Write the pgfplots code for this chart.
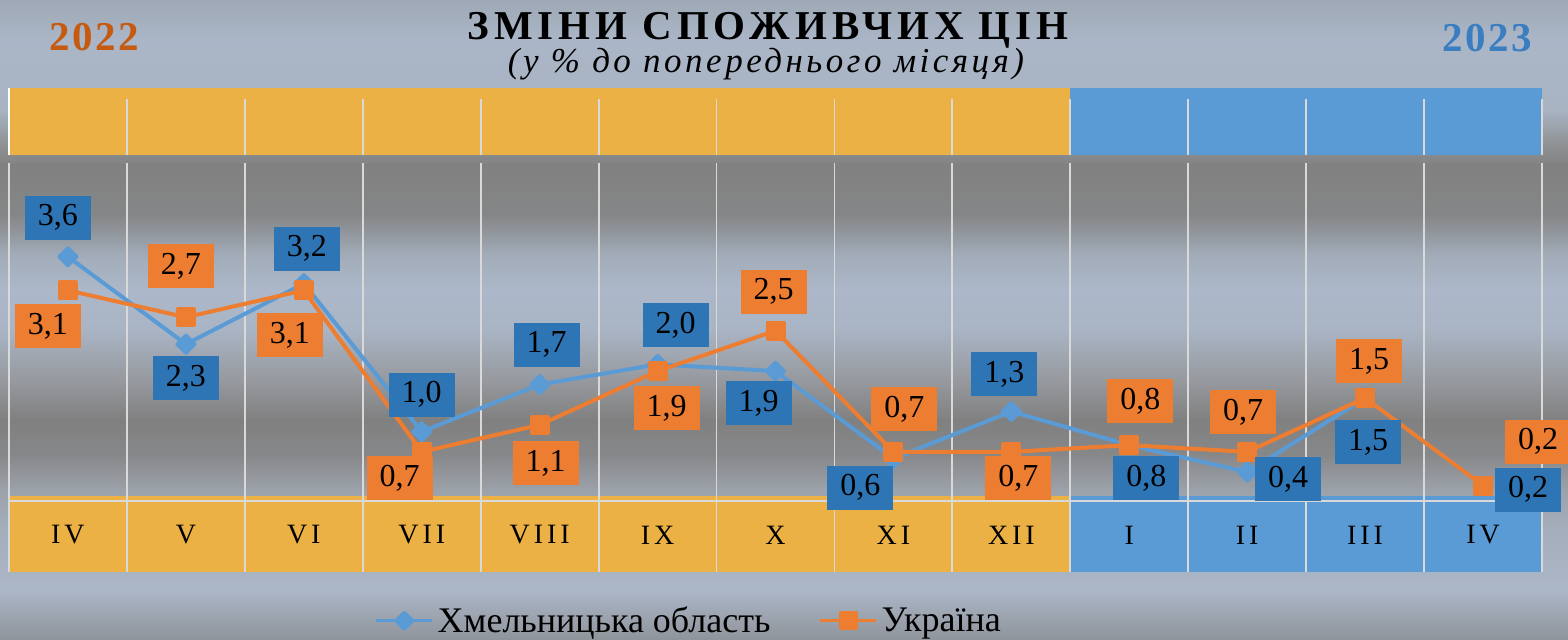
\documentclass[border=0pt]{standalone}
\usepackage{pgfplots}
\pgfplotsset{compat=1.18}
\usepackage{pgfplotstable}
\usepackage{fontspec}
\setmainfont{Liberation Serif}
\newfontfamily\titlefont[LetterSpace=12]{Liberation Serif}
\newfontfamily\subfont[LetterSpace=10]{Liberation Serif}
\newfontfamily\monthfont[LetterSpace=14]{Liberation Serif}
\newfontfamily\yearfont[LetterSpace=6]{Liberation Serif}

\definecolor{cblue}{HTML}{5B9BD5}
\definecolor{cdblue}{HTML}{2E75B6}
\definecolor{corange}{HTML}{ED7D31}
\definecolor{cband}{HTML}{EBB144}
\definecolor{cbandb}{HTML}{5B9BD5}
\definecolor{cgrid}{HTML}{D9D9D9}
\definecolor{cy22}{HTML}{C55A11}
\definecolor{cy23}{HTML}{3A7DC0}

\definecolor{bg0}{HTML}{9FA9B6}
\definecolor{bg1}{HTML}{AAB6C7}
\definecolor{bg2}{HTML}{A8B3C2}
\definecolor{bg3}{HTML}{929699}
\definecolor{bg4}{HTML}{818181}
\definecolor{bg5}{HTML}{858687}
\definecolor{bg6}{HTML}{A2ACB9}
\definecolor{bg7}{HTML}{ACB8C9}
\definecolor{bg8}{HTML}{A9B4C4}
\definecolor{bg9}{HTML}{96999E}
\definecolor{bg10}{HTML}{808080}
\definecolor{bg11}{HTML}{87888A}
\definecolor{bg12}{HTML}{9CA2AA}
\definecolor{bg13}{HTML}{A5AEBB}
\definecolor{bg14}{HTML}{ABB6C7}
\definecolor{bg15}{HTML}{8F949A}

% Khmelnytska oblast: month index, value, label, label offset (pt)
\pgfplotstableread{
x y lab dx dy
0 3.6 3,6 -5 19.5
1 2.3 2,3 0 -17
2 3.2 3,2 1.5 17.5
3 1.0 1,0 0 18.5
4 1.7 1,7 3.5 20
5 2.0 2,0 9 19.5
6 1.9 1,9 -8.5 -16
7 0.6 0,6 -16.5 -14.5
8 1.3 1,3 -3.5 18.5
9 0.8 0,8 8.5 -16.5
10 0.4 0,4 20.5 -3.5
11 1.5 1,5 1.5 -22
12 0.2 0,2 22.5 -2
}\khm

% Ukraine
\pgfplotstableread{
x y lab dx dy
0 3.1 3,1 -10 -18
1 2.7 2,7 -2.5 25.5
2 3.1 3,1 -7 -22.5
3 0.7 0,7 -11 -13
4 1.1 1,1 3 -19
5 1.9 1,9 4.5 -18.5
6 2.5 2,5 -1 19.5
7 0.7 0,7 5.5 21.5
8 0.7 0,7 3.5 -13
9 0.8 0,8 5.5 22
10 0.7 0,7 -2 20
11 1.5 1,5 2 18.5
12 0.2 0,2 27.5 22
}\ukr

\begin{document}
\begin{tikzpicture}[x=0.5pt,y=0.5pt]
\useasboundingbox (0,0) rectangle (1568,640);
% background gradient (image y from top)
\fill[top color=bg0, bottom color=bg1] (0,640) rectangle (1568,599.5);
\fill[top color=bg1, bottom color=bg2] (0,600) rectangle (1568,529.5);
\fill[top color=bg2, bottom color=bg3] (0,530) rectangle (1568,499.5);
\fill[top color=bg3, bottom color=bg4] (0,500) rectangle (1568,474.5);
\fill[top color=bg4, bottom color=bg5] (0,475) rectangle (1568,424.5);
\fill[top color=bg5, bottom color=bg6] (0,425) rectangle (1568,384.5);
\fill[top color=bg6, bottom color=bg7] (0,385) rectangle (1568,349.5);
\fill[top color=bg7, bottom color=bg8] (0,350) rectangle (1568,309.5);
\fill[top color=bg8, bottom color=bg9] (0,310) rectangle (1568,259.5);
\fill[top color=bg9, bottom color=bg10] (0,260) rectangle (1568,219.5);
\fill[top color=bg10, bottom color=bg11] (0,220) rectangle (1568,184.5);
\fill[top color=bg11, bottom color=bg12] (0,185) rectangle (1568,149.5);
\fill[top color=bg12, bottom color=bg13] (0,150) rectangle (1568,109.5);
\fill[top color=bg13, bottom color=bg14] (0,110) rectangle (1568,49.5);
\fill[top color=bg14, bottom color=bg15] (0,50) rectangle (1568,0);

% titles
\node[anchor=base, font=\titlefont\bfseries\fontsize{20.5}{24}\selectfont] at (768,600) {ЗМІНИ СПОЖИВЧИХ ЦІН};
\node[anchor=base, font=\subfont\itshape\fontsize{17.5}{20}\selectfont] at (766,567) {(у \% до попереднього місяця)};
\node[anchor=base, text=cy22, font=\yearfont\bfseries\fontsize{20.5}{22}\selectfont] at (94,589) {2022};
\node[anchor=base, text=cy23, font=\yearfont\bfseries\fontsize{20.5}{22}\selectfont] at (1487,588) {2023};

\begin{axis}[
  at={(4.5pt,34pt)}, anchor=south west,
  scale only axis, width=766.5pt, height=242pt,
  xmin=-0.5, xmax=12.5, ymin=-1.085, ymax=6.107,
  clip=false, axis on top,
  axis line style={draw=none},
  tick style={draw=none},
  ytick=\empty,
  xtick={0,...,12},
  xticklabels={IV,V,VI,VII,VIII,IX,X,XI,XII,I,II,III,IV},
  xticklabel style={anchor=center, yshift=18.5pt, text=black, font=\monthfont\fontsize{14}{16}\selectfont},
  legend columns=2,
  legend style={at={(axis description cs:0.444,-0.101)}, anchor=center, draw=none, fill=none,
    font=\fontsize{18}{20}\selectfont, inner sep=0pt,
    /tikz/every even column/.append style={column sep=22pt}},
  legend image code/.code={\draw[mark repeat=2, mark phase=2, #1, line width=1.6pt] plot coordinates {(0pt,0pt) (14pt,0pt) (28pt,0pt)};},
]
% top band
\fill[cband] (axis cs:-0.5,5.11) rectangle (axis cs:8.5,6.107);
\fill[cbandb] (axis cs:8.5,5.11) rectangle (axis cs:12.5,6.107);
% bottom band
\fill[cband] (axis cs:-0.5,-1.085) rectangle (axis cs:8.5,0.045);
\fill[cbandb] (axis cs:8.5,-1.085) rectangle (axis cs:12.5,0.045);
\draw[cgrid, line width=1pt] (axis cs:-0.5,-0.03) -- (axis cs:12.5,-0.03);
% grid lines
\pgfplotsinvokeforeach{-0.5,0.5,...,12.5}{
  \draw[cgrid, line width=0.9pt] (axis cs:#1,4.99) -- (axis cs:#1,-1.085);
  \draw[cgrid, line width=0.9pt] (axis cs:#1,5.94) -- (axis cs:#1,5.11);
}
\draw[white, line width=1pt] (axis cs:-0.5,6.107) -- (axis cs:-0.5,5.11);

\addplot[color=cblue, line width=2pt, line join=round, mark=square*, mark size=3pt,
  mark options={rotate=45, solid, fill=cblue, draw=cblue}]
  table[x=x, y=y]{\khm};
\addlegendentry{Хмельницька область}
\addplot[color=corange, line width=2pt, line join=round, mark=square*, mark size=4pt,
  mark options={solid, fill=corange, draw=corange}]
  table[x=x, y=y]{\ukr};
\addlegendentry{Україна}

% data labels
\addplot[draw=none, mark=none, forget plot,
  nodes near coords, point meta=explicit symbolic,
  visualization depends on={\thisrow{dx} \as \labdx},
  visualization depends on={\thisrow{dy} \as \labdy},
  every node near coord/.append style={anchor=center, fill=cdblue, text=black,
    font=\fontsize{16}{18}\selectfont, minimum width=33pt, minimum height=22pt,
    inner sep=0pt, xshift=\labdx pt, yshift=\labdy pt}]
  table[x=x, y=y, meta=lab]{\khm};
\addplot[draw=none, mark=none, forget plot,
  nodes near coords, point meta=explicit symbolic,
  visualization depends on={\thisrow{dx} \as \labdx},
  visualization depends on={\thisrow{dy} \as \labdy},
  every node near coord/.append style={anchor=center, fill=corange, text=black,
    font=\fontsize{16}{18}\selectfont, minimum width=33pt, minimum height=22pt,
    inner sep=0pt, xshift=\labdx pt, yshift=\labdy pt}]
  table[x=x, y=y, meta=lab]{\ukr};
\end{axis}
\end{tikzpicture}
\end{document}
